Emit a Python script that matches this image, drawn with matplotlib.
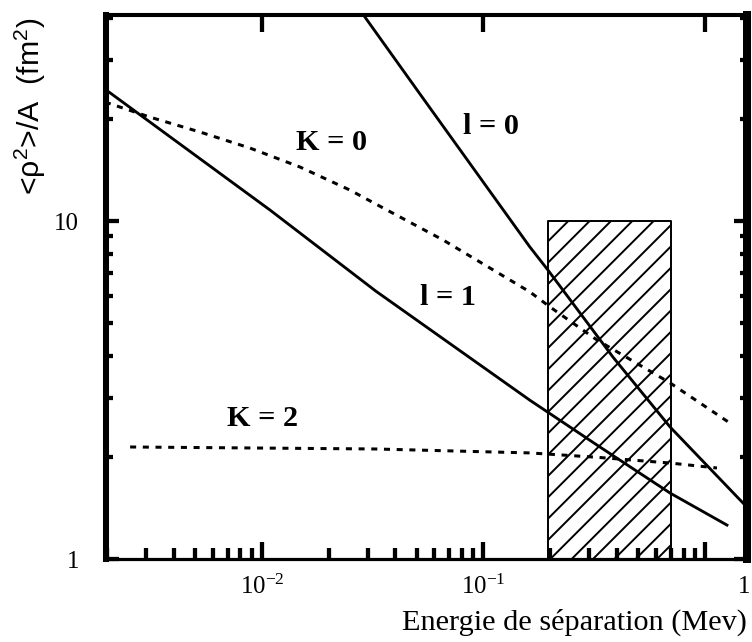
import matplotlib
matplotlib.use("Agg")
import matplotlib.pyplot as plt
from matplotlib.ticker import NullFormatter

plt.rcParams['font.family'] = ['Liberation Serif', 'DejaVu Serif']
plt.rcParams['mathtext.fontset'] = 'custom'
plt.rcParams['mathtext.rm'] = 'Liberation Serif'
plt.rcParams['mathtext.default'] = 'regular'
plt.rcParams['hatch.linewidth'] = 1.1

# separation energy (MeV) and <rho^2>/A (fm^2)
l0_E = [0.0285, 0.0528, 0.162, 0.1955, 0.384, 0.695, 1.484]
l0_r = [41.0, 23.3, 8.38, 7.16, 3.96, 2.46, 1.465]

l1_E = [0.00195, 0.01087, 0.0327, 0.162, 0.325, 0.695, 1.257]
l1_r = [24.6, 10.78, 6.2, 2.95, 2.175, 1.568, 1.26]

k0_E = [0.001955, 0.00312, 0.00525, 0.00883, 0.01484, 0.02495, 0.03666,
        0.0657, 0.162, 0.1996, 0.325, 0.695, 1.338]
k0_r = [22.5, 20.3, 18.34, 16.44, 14.45, 12.35, 10.78, 8.79, 6.17, 5.57,
        4.45, 3.32, 2.49]

k2_E = [0.00254, 0.0327, 0.162, 0.325, 0.695, 1.133]
k2_r = [2.145, 2.116, 2.06, 2.00, 1.923, 1.859]

# experimental window (hatched)
box_E = [0.195, 0.70]
box_r = [1, 10]

x_ticks = [0.01, 0.1, 1]
x_ticklabels = ['$10^{-2}$', '$10^{-1}$', '']
y_ticks = [1, 10]
y_ticklabels = ['1', '10']

fig = plt.figure(figsize=(5.875, 5.015625), dpi=128)
ax = fig.add_axes([0.14096, 0.12928, 0.8524, 0.84735])
ax.set_xscale('log')
ax.set_yscale('log')
ax.set_xlim(0.001977, 1.548)
ax.set_ylim(1, 40.7)

ax.fill_between(box_E, box_r[0], box_r[1], facecolor='none',
                edgecolor='black', hatch='//', linewidth=1.1, zorder=1)

solid = dict(color='black', lw=1.6, zorder=3)
dotted = dict(color='black', lw=1.7, ls=(0, (2.0, 2.2)), zorder=3)
ax.plot(l0_E, l0_r, **solid)
ax.plot(l1_E, l1_r, **solid)
ax.plot(k0_E, k0_r, **dotted)
ax.plot(k2_E, k2_r, **dotted)

lab = dict(fontsize=17, fontweight='bold', ha='center', va='center')
ax.text(0.0207, 17.1, 'K = 0', **lab)
ax.text(0.108, 19.0, 'l = 0', **lab)
ax.text(0.0692, 5.92, 'l = 1', **lab)
ax.text(0.0101, 2.60, 'K = 2', **lab)

ax.set_xticks(x_ticks, labels=x_ticklabels)
ax.set_yticks(y_ticks, labels=y_ticklabels)
ax.xaxis.set_minor_formatter(NullFormatter())
ax.yaxis.set_minor_formatter(NullFormatter())
ax.text(0.995, -0.052, '1', transform=ax.transAxes, ha='center',
        va='center', fontsize=14)

ax.tick_params(which='both', direction='in', top=True, right=True,
               labelsize=14)
ax.tick_params(axis='x', which='major', length=9.5, width=2.4, pad=9)
ax.tick_params(axis='x', which='minor', length=6, width=2.4, top=False)
ax.tick_params(axis='y', which='major', length=7.5, width=2.4, pad=15)
ax.tick_params(axis='y', which='minor', length=4, width=2.4)

ax.spines['left'].set_linewidth(3.4)
ax.spines['right'].set_linewidth(4.5)
ax.spines['top'].set_linewidth(2.3)
ax.spines['bottom'].set_linewidth(1.8)

ax.set_ylabel('<ρ$^2$>/A  (fm$^2$)', fontsize=17, family='Liberation Sans',
              va='center')
ax.yaxis.set_label_coords(-0.1186, 0.833)
ax.set_xlabel('Energie de séparation (Mev)', fontsize=17, loc='right',
              va='center')
ax.xaxis.set_label_coords(1.0, -0.116)

fig.savefig('out.png', dpi=128)
